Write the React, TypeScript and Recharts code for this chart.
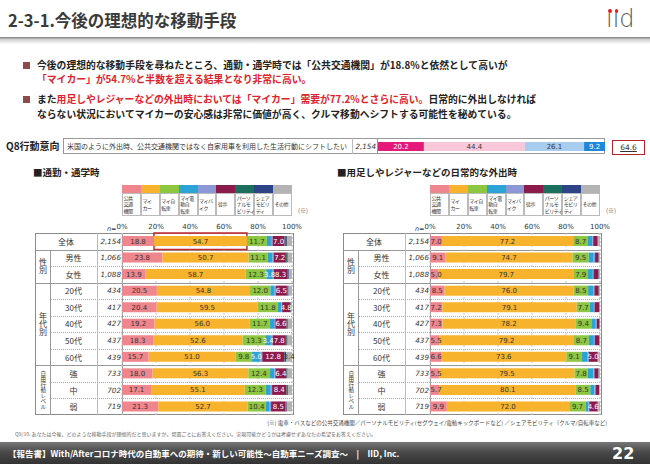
import React from 'react';
import { BarChart, Bar, XAxis, YAxis, CartesianGrid, LabelList, ReferenceArea } from 'recharts';

const FONT_JP = '"Noto Sans CJK JP", "Noto Sans", sans-serif';
const FONT_NUM = '"DejaVu Sans", Verdana, sans-serif';

const modes = ['公共交通機関', 'マイカー', 'マイ自転車', 'マイ電動自転車', 'マイバイク', '徒歩', 'パーソナルモビリティ', 'シェアモビリティ', 'その他'];
const modeLegend = ['公共\n交通\n機関', 'マイ\nカー', 'マイ自\n転車', 'マイ電\n動自\n転車', 'マイバ\nイク', '徒歩', 'パーソ\nナルモ\nビリティ', 'シェア\nモビリ\nティ', 'その他'];
const modeColors = ['#f0868d', '#f7b32b', '#8dc640', '#2ca3d6', '#8b98d5', '#8c1b4b', '#1c6e5d', '#2f4487', '#b3b3b3'];
const labelColors = ['#333', '#333', '#333', '#fff', '#fff', '#fff', '#fff', '#fff', '#333'];

const rows = ['全体', '男性', '女性', '20代', '30代', '40代', '50代', '60代', '強', '中', '弱'];
const rowN = ['2,154', '1,066', '1,088', '434', '417', '427', '437', '439', '733', '702', '719'];
const groups = [
  { label: '性別', from: 1, to: 2, size: 8 },
  { label: '年代別', from: 3, to: 7, size: 8 },
  { label: '自由行動レベル', from: 8, to: 10, size: 5.5 },
];
const pctTicks = [0, 20, 40, 60, 80, 100];

// 通勤・通学時 (%), row order as rows, column order as modes
const commute = [
  [18.8, 54.7, 11.7, 2.4, 1.0, 7.0, 0.8, 0.6, 3.0],
  [23.8, 50.7, 11.1, 3.0, 0.6, 7.2, 0.6, 0.5, 2.5],
  [13.9, 58.7, 12.3, 3.8, 0.5, 8.3, 0.3, 0.4, 1.8],
  [20.5, 54.8, 12.0, 2.5, 0.7, 6.5, 0.5, 0.5, 2.0],
  [20.4, 59.5, 11.8, 2.0, 0.5, 4.8, 0.3, 0.2, 0.5],
  [19.2, 56.0, 11.7, 2.5, 0.8, 6.6, 0.4, 0.4, 2.4],
  [18.3, 52.6, 13.3, 3.4, 1.0, 7.8, 0.5, 0.5, 2.6],
  [15.7, 51.0, 9.8, 5.0, 1.0, 12.8, 0.3, 1.0, 3.4],
  [18.0, 56.3, 12.4, 3.0, 0.5, 6.4, 0.4, 0.4, 2.6],
  [17.1, 55.1, 12.3, 3.0, 0.8, 8.4, 0.4, 0.5, 2.4],
  [21.3, 52.7, 10.4, 2.5, 0.8, 8.5, 0.4, 0.4, 3.0],
];

// 用足しやレジャーなどの日常的な外出時 (%)
const leisure = [
  [7.0, 77.2, 8.7, 2.5, 0.6, 2.4, 0.3, 0.3, 1.0],
  [9.1, 74.7, 9.5, 3.0, 0.8, 2.0, 0.2, 0.2, 0.5],
  [5.0, 79.7, 7.9, 3.2, 0.4, 2.8, 0.2, 0.2, 0.6],
  [8.5, 76.0, 8.5, 3.0, 0.7, 2.5, 0.2, 0.2, 0.4],
  [7.2, 79.1, 7.7, 2.4, 0.4, 2.8, 0.1, 0.1, 0.2],
  [7.3, 78.2, 9.4, 2.6, 0.6, 1.5, 0.2, 0.1, 0.1],
  [5.5, 79.2, 8.7, 3.0, 0.6, 2.6, 0.1, 0.1, 0.2],
  [6.6, 73.6, 9.1, 3.5, 0.6, 5.0, 0.2, 0.3, 1.1],
  [5.5, 79.5, 7.8, 3.3, 0.6, 2.2, 0.2, 0.2, 0.7],
  [5.7, 80.1, 8.5, 2.5, 0.6, 2.0, 0.1, 0.1, 0.4],
  [9.9, 72.0, 9.7, 1.5, 0.6, 4.6, 0.3, 0.3, 1.1],
];

// smallest value that still gets a data label, per mode
const commuteMin = [0, 0, 0, 3.4, 99, 4, 99, 99, 3.2];
const leisureMin = [0, 0, 0, 99, 99, 4, 99, 99, 99];

// Q8 行動意向
const q8Keys = ['とてもそう思う', 'ややそう思う', 'あまりそう思わない', '全くそう思わない'];
const q8Values = [20.2, 44.4, 26.1, 9.2];
const q8Colors = ['#e4197a', '#f8c8da', '#a9cdee', '#1f87d7'];
const q8LabelColors = ['#fff', '#333', '#333', '#fff'];
const q8Top2 = '64.6';

const Abs = ({ x, y, w, h, style, children }: any) => (
  <div style={{ position: 'absolute', left: x, top: y, width: w, height: h, ...style }}>{children}</div>
);

const LABEL_SIZE = 7;

const makeLabel = (j: number, minVal: number[], colors: string[]) => (props: any) => {
  const { x, y, width, height, value } = props;
  if (value == null || value < minVal[j]) return null;
  const txt = Number(value).toFixed(1);
  const tw = txt.length * LABEL_SIZE * 0.58;
  // a narrow first segment keeps its label at the bar start, as in the slide
  const narrowFirst = j === 0 && width < tw + 1;
  return (
    <text x={narrowFirst ? x + 0.5 : x + width / 2} y={y + height / 2 + 0.5}
      textAnchor={narrowFirst ? 'start' : 'middle'} dominantBaseline="central"
      fontSize={LABEL_SIZE} fontFamily={FONT_NUM} fill={colors[j]}>{txt}</text>
  );
};

function Panel({ L, values, minVal, highlight }: any) {
  const T = 233;
  const H = 182;
  const rowH = H / rows.length;
  const W = 259;
  const barX = L + 87;
  const barW = 170;
  const data = rows.map((name, i) => {
    const o: any = { name };
    modes.forEach((m, j) => { o[m] = values[i][j]; });
    return o;
  });
  const lines: any[] = [];
  for (let k = 1; k < rows.length; k++) {
    const y = T + rowH * k;
    if (k === 1 || k === 3 || k === 8) {
      lines.push(<Abs key={'h' + k} x={L} y={y} w={W} h={0} style={{ borderTop: '1px solid #999' }} />);
    } else {
      lines.push(<Abs key={'h' + k} x={L + 15} y={y} w={W - 15} h={0} style={{ borderTop: '1px dotted #aaa' }} />);
    }
  }
  const cellW = barW / modes.length;
  return (
    <>
      {/* legend */}
      {modes.map((m, j) => (
        <React.Fragment key={m}>
          <Abs x={barX + cellW * j} y={185} w={cellW} h={8} style={{ background: modeColors[j] }} />
          <Abs x={barX + cellW * j} y={193} w={cellW} h={23}
            style={{ border: '0.5px solid #bbb', boxSizing: 'border-box', display: 'flex', alignItems: 'center',
              fontSize: 5, letterSpacing: -0.5, lineHeight: '6.3px', whiteSpace: 'pre', color: '#333', fontFamily: FONT_JP, paddingLeft: 0.5 }}>
            {modeLegend[j]}
          </Abs>
        </React.Fragment>
      ))}
      <Abs x={barX + barW + 6} y={206} style={{ fontSize: 6, color: '#666', fontFamily: FONT_JP, whiteSpace: 'nowrap' }}>(※)</Abs>
      <Abs x={L + 72} y={225} style={{ fontSize: 6.5, fontStyle: 'italic', color: '#333', fontFamily: FONT_NUM }}>n=</Abs>

      {/* table */}
      <Abs x={L} y={T} w={W} h={H} style={{ border: '1px solid #8a8a8a', boxSizing: 'border-box' }} />
      {lines}
      <Abs x={L + 15} y={T + rowH} w={0} h={H - rowH} style={{ borderLeft: '1px solid #999' }} />
      <Abs x={L + 62} y={T} w={0} h={H} style={{ borderLeft: '1px solid #bbb' }} />
      <Abs x={L + 87} y={T} w={0} h={H} style={{ borderLeft: '1px solid #999' }} />
      {groups.map(g => (
        <Abs key={g.label} x={L} y={T + rowH * g.from} w={15} h={rowH * (g.to - g.from + 1)}
          style={{ display: 'flex', alignItems: 'center', justifyContent: 'center' }}>
          <span style={{ writingMode: 'vertical-rl', fontSize: g.size, color: '#333', fontFamily: FONT_JP, lineHeight: 1 }}>{g.label}</span>
        </Abs>
      ))}
      {rows.map((r, i) => (
        <React.Fragment key={r}>
          <Abs x={i === 0 ? L : L + 15} y={T + rowH * i} w={i === 0 ? 62 : 47} h={rowH}
            style={{ display: 'flex', alignItems: 'center', justifyContent: 'center', fontSize: 8, color: '#333', fontFamily: FONT_JP }}>{r}</Abs>
          <Abs x={L + 62} y={T + rowH * i} w={24} h={rowH}
            style={{ display: 'flex', alignItems: 'center', justifyContent: 'flex-end', fontSize: 7.2, fontStyle: 'italic', color: '#333', fontFamily: FONT_NUM, whiteSpace: 'nowrap' }}>{rowN[i]}</Abs>
        </React.Fragment>
      ))}

      <div style={{ position: 'absolute', left: barX - 25, top: T - 20 }}>
        <BarChart width={barW + 50} height={H + 20} data={data} layout="vertical"
          margin={{ top: 0, right: 25, bottom: 0, left: 25 }} barCategoryGap={0}>
          <CartesianGrid horizontal={false} stroke="#c8c8c8" strokeDasharray="2 2" />
          <XAxis type="number" orientation="top" domain={[0, 100]} ticks={pctTicks} height={20}
            tickFormatter={(v: number) => v + '%'} axisLine={false} tickLine={false} tickSize={0} tickMargin={4}
            tick={{ fontSize: 7, fill: '#333', fontFamily: FONT_NUM }} interval={0} />
          <YAxis type="category" dataKey="name" hide />
          {modes.map((m, j) => (
            <Bar key={m} dataKey={m} stackId="a" fill={modeColors[j]} barSize={10} isAnimationActive={false}>
              <LabelList dataKey={m} content={makeLabel(j, minVal, labelColors)} />
            </Bar>
          ))}
          {highlight && (
            <ReferenceArea x1={values[0][0]} x2={values[0][0] + values[0][1]} y1={rows[0]} y2={rows[0]}
              fill="none" stroke="#c0282e" strokeWidth={1.5} ifOverflow="visible" />
          )}
        </BarChart>
      </div>
    </>
  );
}

function Q8Bar() {
  const d: any = { name: 'Q8' };
  q8Keys.forEach((k, j) => { d[k] = q8Values[j]; });
  return (
    <BarChart width={227} height={16} data={[d]} layout="vertical" margin={{ top: 0, right: 0, bottom: 0, left: 0 }}>
      <XAxis type="number" domain={[0, 'dataMax']} hide />
      <YAxis type="category" dataKey="name" hide />
      {q8Keys.map((k, j) => (
        <Bar key={k} dataKey={k} stackId="q" fill={q8Colors[j]} barSize={9} isAnimationActive={false}>
          <LabelList dataKey={k} content={makeLabel(j, [0, 0, 0, 0], q8LabelColors)} />
        </Bar>
      ))}
    </BarChart>
  );
}

export default function App() {
  const bold = { fontWeight: 700 };
  const red = { color: '#e0222a' };
  const bullet = (y: number) => (
    <Abs x={23} y={y - 3.5} w={7} h={7} style={{ background: '#8e4a4a' }} />
  );
  const lineStyle = { fontSize: 9.8, ...bold, color: '#222', fontFamily: FONT_JP, whiteSpace: 'nowrap', lineHeight: '12px' };
  const iDot = { position: 'absolute' as const, left: 2, top: 4, width: 3.5, height: 3.5, borderRadius: 2, background: '#e02020' };
  return (
    <div style={{ position: 'fixed', left: 0, top: 0, width: 650, height: 464, background: '#fff', overflow: 'hidden', fontFamily: FONT_JP }}>
      {/* header */}
      <Abs x={8} y={9} style={{ fontSize: 16.5, ...bold, color: '#3a3a3a', whiteSpace: 'nowrap', lineHeight: '22px' }}>2-3-1.今後の理想的な移動手段</Abs>
      <Abs x={606} y={6} style={{ fontSize: 24, color: '#555', fontFamily: FONT_NUM, fontWeight: 300, lineHeight: '27px', whiteSpace: 'nowrap' }}>
        <span style={{ position: 'relative' }}>ı<span style={iDot} /></span>
        <span style={{ position: 'relative' }}>ı<span style={iDot} /></span>
        <span>d</span>
      </Abs>
      <Abs x={0} y={37} w={650} h={7} style={{ background: 'linear-gradient(to bottom, #7a7a7a 0%, #cfcfcf 35%, #ffffff 100%)' }} />

      {/* bullets */}
      {bullet(65)}
      <Abs x={37} y={59} style={lineStyle}>今後の理想的な移動手段を尋ねたところ、通勤・通学時では「公共交通機関」が18.8%と依然として高いが</Abs>
      <Abs x={37} y={73} style={{ ...lineStyle, ...red }}>「マイカー」が54.7%と半数を超える結果となり非常に高い。</Abs>
      {bullet(99)}
      <Abs x={37} y={93} style={lineStyle}>また<span style={red}>用足しやレジャーなどの外出時においては「マイカー」需要が77.2%とさらに高い。</span>日常的に外出しなければ</Abs>
      <Abs x={37} y={108} style={lineStyle}>ならない状況においてマイカーの安心感は非常に価値が高く、クルマ移動へシフトする可能性を秘めている。</Abs>

      {/* Q8 */}
      <Abs x={6} y={139} style={{ fontSize: 10, ...bold, color: '#222', whiteSpace: 'nowrap', lineHeight: '14px' }}>Q8行動意向</Abs>
      <Abs x={63} y={138} w={542} h={16} style={{ border: '1px solid #999', boxSizing: 'border-box' }} />
      <Abs x={352} y={138} w={0} h={16} style={{ borderLeft: '1px solid #bbb' }} />
      <Abs x={377} y={138} w={0} h={16} style={{ borderLeft: '1px solid #999' }} />
      <Abs x={67} y={138} h={16} style={{ display: 'flex', alignItems: 'center', fontSize: 7, color: '#333', whiteSpace: 'nowrap' }}>米国のように外出時、公共交通機関ではなく自家用車を利用した生活行動にシフトしたい</Abs>
      <Abs x={352} y={138} w={24} h={16} style={{ display: 'flex', alignItems: 'center', justifyContent: 'flex-end', fontSize: 7.2, fontStyle: 'italic', color: '#333', fontFamily: FONT_NUM }}>2,154</Abs>
      <div style={{ position: 'absolute', left: 378, top: 138 }}><Q8Bar /></div>
      <Abs x={612} y={140} w={33} h={15} style={{ border: '1.5px solid #b3262b', boxSizing: 'border-box', display: 'flex', alignItems: 'center', justifyContent: 'center', fontSize: 7.5, color: '#333', fontFamily: FONT_NUM, textDecoration: 'underline' }}>{q8Top2}</Abs>

      {/* section titles */}
      <Abs x={33} y={166} style={{ fontSize: 9.5, ...bold, color: '#222', whiteSpace: 'nowrap', lineHeight: '13px' }}>■通勤・通学時</Abs>
      <Abs x={337} y={166} style={{ fontSize: 9.5, ...bold, color: '#222', whiteSpace: 'nowrap', lineHeight: '13px' }}>■用足しやレジャーなどの日常的な外出時</Abs>

      <Panel L={35} values={commute} minVal={commuteMin} highlight />
      <Panel L={343} values={leisure} minVal={leisureMin} />

      {/* notes */}
      <Abs x={200} y={419} w={407} style={{ fontSize: 5.5, color: '#444', textAlign: 'right', whiteSpace: 'nowrap' }}>(※) 電車・バスなどの公共交通機関／パーソナルモビリティ(セグウェイ/電動キックボードなど) ／シェアモビリティ（クルマ/自転車など)</Abs>
      <Abs x={15} y={430} style={{ fontSize: 5, color: '#666', whiteSpace: 'nowrap' }}>Q9/10. あなたは今後、どのような移動手段が理想的だと思いますか。場面ごとにお答えください。実現可能かどうかは考慮せずあなたの希望をお答えください。</Abs>

      {/* footer */}
      <Abs x={0} y={442} w={650} h={22} style={{ background: 'linear-gradient(to bottom, #777 0%, #4a4a4a 45%, #333 100%)' }} />
      <Abs x={8} y={442} h={22} style={{ display: 'flex', alignItems: 'center', fontSize: 8.5, ...bold, color: '#fff', whiteSpace: 'nowrap' }}>【報告書】With/Afterコロナ時代の自動車への期待・新しい可能性～自動車ニーズ調査～　|　IID, Inc.</Abs>
      <Abs x={612} y={442} h={22} style={{ display: 'flex', alignItems: 'center', fontSize: 16, ...bold, color: '#fff', fontFamily: FONT_NUM }}>22</Abs>
    </div>
  );
}
